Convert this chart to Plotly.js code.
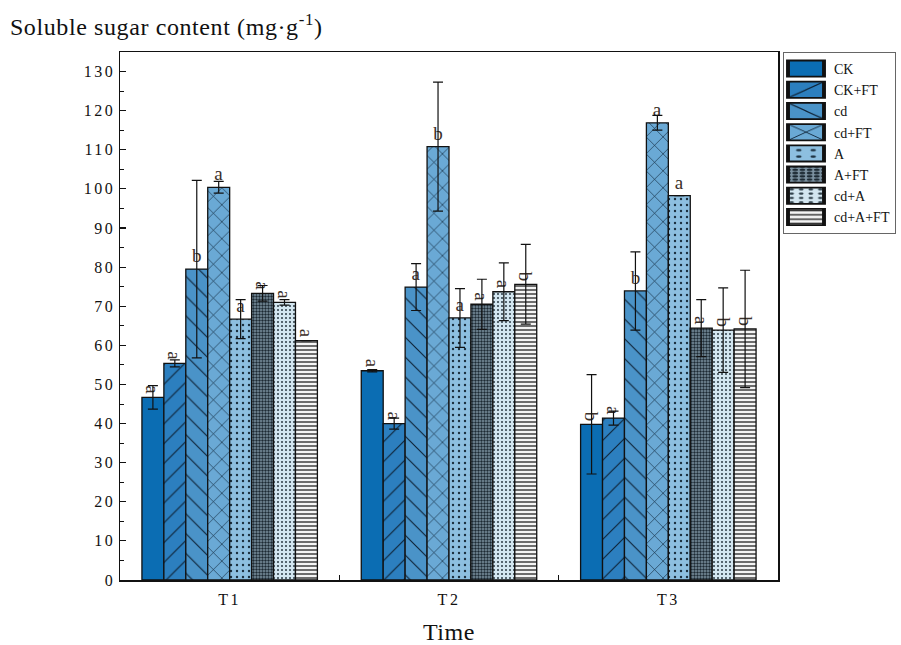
<!DOCTYPE html>
<html>
<head>
<meta charset="utf-8">
<script src="https://cdn.plot.ly/plotly-3.0.1.min.js"></script>
<style>
html,body{margin:0;padding:0;background:#fff;}
#chart{width:901px;height:645px;}
#chart .ytick text, #chart .xtick text{letter-spacing:2.5px;}
#chart .gtitle, #chart .xtitle{letter-spacing:0.6px;}
</style>
</head>
<body>
<div id="chart"></div>
<script>
const categories = ['T1', 'T2', 'T3'];
const seriesNames = ['CK', 'CK+FT', 'cd', 'cd+FT', 'A', 'A+FT', 'cd+A', 'cd+A+FT'];

const CK      = [46.7, 53.5, 39.8];
const CK_FT   = [55.4, 40.0, 41.4];
const cd      = [79.5, 74.9, 73.9];
const cd_FT   = [100.4, 110.8, 116.9];
const A       = [66.7, 67.0, 98.3];
const A_FT    = [73.3, 70.5, 64.4];
const cd_A    = [71.0, 73.7, 63.9];
const cd_A_FT = [61.2, 75.6, 64.2];

const CK_err      = [3.0, 0.3, 12.7];
const CK_FT_err   = [0.9, 1.4, 1.8];
const cd_err      = [22.7, 6.0, 10.0];
const cd_FT_err   = [1.5, 16.5, 1.9];
const A_err       = [5.0, 7.5, 0];
const A_FT_err    = [2.0, 6.4, 7.3];
const cd_A_err    = [0.7, 7.4, 10.8];
const cd_A_FT_err = [0, 10.2, 15.0];

const CK_sig      = ['a', 'a', 'b'];
const CK_FT_sig   = ['a', 'a', 'a'];
const cd_sig      = ['b', 'a', 'b'];
const cd_FT_sig   = ['a', 'b', 'a'];
const A_sig       = ['a', 'a', 'a'];
const A_FT_sig    = ['a', 'a', 'a'];
const cd_A_sig    = ['a', 'a', 'b'];
const cd_A_FT_sig = ['a', 'b', 'b'];

const values = [CK, CK_FT, cd, cd_FT, A, A_FT, cd_A, cd_A_FT];
const errs = [CK_err, CK_FT_err, cd_err, cd_FT_err, A_err, A_FT_err, cd_A_err, cd_A_FT_err];
const sigs = [CK_sig, CK_FT_sig, cd_sig, cd_FT_sig, A_sig, A_FT_sig, cd_A_sig, cd_A_FT_sig];

const styles = [
  {color: '#0b6db3', pattern: {shape: ''}, angle: 90},
  {color: '#2c7fbf', pattern: {shape: '/', fgcolor: '#0d2236', size: 14, solidity: 0.08}, angle: 90},
  {color: '#4a93c8', pattern: {shape: '\\', fgcolor: '#0d2236', size: 14, solidity: 0.08}, angle: 0},
  {color: '#6aa9d5', pattern: {shape: 'x', fgcolor: '#0d2236', size: 12, solidity: 0.1}, angle: 0},
  {color: '#8dbfe0', pattern: {shape: '.', fgcolor: '#1a2e3d', size: 6, solidity: 0.12}, angle: 0},
  {color: '#7d93a2', pattern: {shape: '.', fgcolor: '#1d2a33', size: 3, solidity: 0.5}, angle: 90},
  {color: '#d3e6f0', pattern: {shape: '.', fgcolor: '#2a3a44', size: 4, solidity: 0.2}, angle: 90},
  {color: '#f4f4f4', pattern: {shape: '-', fgcolor: '#333333', size: 4, solidity: 0.35}, angle: 90}
];

const serif = '"Liberation Serif", "DejaVu Serif", serif';

const traces = seriesNames.map((name, i) => ({
  type: 'bar',
  name: name,
  x: categories,
  y: values[i],
  text: sigs[i],
  textposition: 'outside',
  textangle: styles[i].angle,
  constraintext: 'none',
  cliponaxis: false,
  textfont: {family: serif, size: 19, color: '#3b3029'},
  marker: {
    color: styles[i].color,
    pattern: Object.assign({bgcolor: styles[i].color}, styles[i].pattern),
    line: {color: '#111111', width: 1.3}
  },
  error_y: {type: 'data', array: errs[i], visible: true, color: '#111111', thickness: 1.2, width: 5}
}));

const layout = {
  width: 901,
  height: 645,
  margin: {l: 120, r: 123, t: 52, b: 65, autoexpand: false},
  paper_bgcolor: '#ffffff',
  plot_bgcolor: '#ffffff',
  font: {family: serif, size: 16, color: '#111111'},
  barmode: 'group',
  bargap: 0.2,
  bargroupgap: 0,
  showlegend: true,
  title: {
    text: 'Soluble sugar content (mg·g<sup>-1</sup>)',
    font: {family: serif, size: 24, color: '#111111'},
    xref: 'container', x: 0.011, xanchor: 'left',
    yref: 'container', y: 0.972, yanchor: 'top'
  },
  xaxis: {
    type: 'category',
    range: [-0.5, 2.5],
    showline: true, linecolor: '#111111', linewidth: 1.5,
    mirror: true,
    ticks: 'inside', tickson: 'boundaries', ticklen: 5, tickcolor: '#111111', tickwidth: 1.2,
    ticklabelstandoff: 4,
    tickfont: {family: serif, size: 16, color: '#111111'},
    showgrid: false, zeroline: false,
    title: {text: 'Time', font: {family: serif, size: 24, color: '#111111'}, standoff: 22}
  },
  yaxis: {
    range: [0, 135],
    tickmode: 'linear', tick0: 0, dtick: 10,
    showline: true, linecolor: '#111111', linewidth: 1.5,
    mirror: true,
    ticks: 'inside', ticklen: 6, tickcolor: '#111111', tickwidth: 1.2,
    minor: {ticks: 'inside', dtick: 5, ticklen: 4, tickcolor: '#111111', tickwidth: 1},
    tickfont: {family: serif, size: 16, color: '#111111'},
    showgrid: false, zeroline: false
  },
  legend: {
    x: 1.0076, xanchor: 'left',
    y: 1, yanchor: 'top',
    bgcolor: '#ffffff',
    bordercolor: '#666666', borderwidth: 1,
    font: {family: serif, size: 14, color: '#111111'},
    tracegroupgap: 0,
    itemwidth: 40
  }
};

Plotly.newPlot('chart', traces, layout, {displayModeBar: false, staticPlot: true}).then(function (gd) {
  gd.querySelectorAll('.legend .legendpoints path').forEach(function (p) {
    const t = p.getAttribute('transform') || '';
    p.setAttribute('transform', t + ' translate(-3,0) scale(3,1.35)');
  });
});
</script>
</body>
</html>
